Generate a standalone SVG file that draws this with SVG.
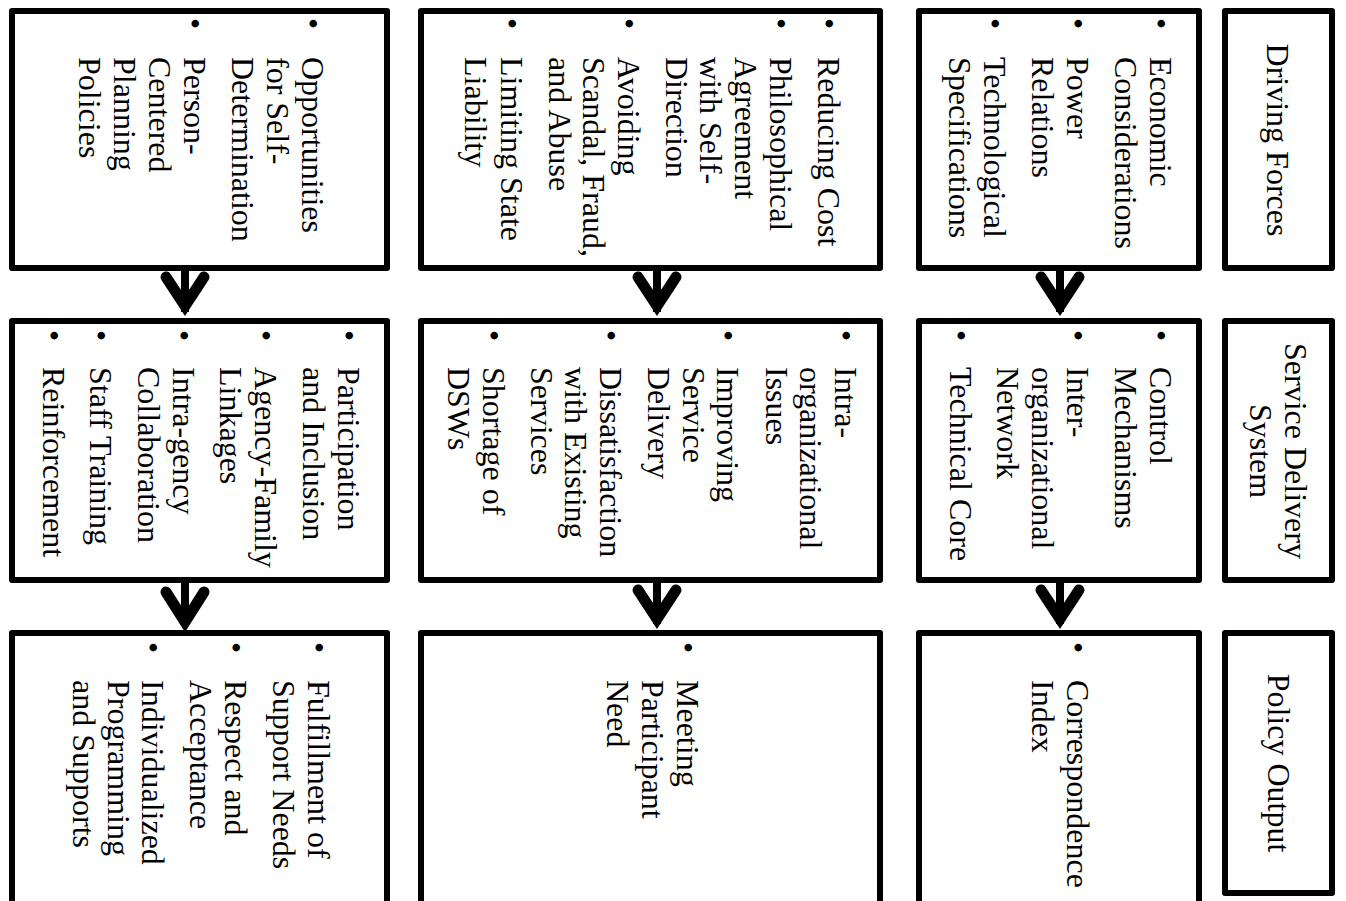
<svg xmlns="http://www.w3.org/2000/svg" width="1346" height="901" viewBox="0 0 1346 901">
<style>
.box{fill:#fff;stroke:#000;stroke-width:6;stroke-linejoin:round}
text{font-family:"Liberation Serif","Times New Roman",serif;font-size:32px;fill:#000}
.lbl{text-anchor:middle}
.stem{stroke:#000;stroke-width:8;fill:none}
.chev{stroke:#000;stroke-width:11;fill:none;stroke-linecap:round;stroke-linejoin:miter;stroke-miterlimit:6}
</style>
<rect width="1346" height="901" fill="#fff"/>

<g id="label-driving">
<rect class="box" x="1225" y="11" width="107" height="257"/>
<g transform="rotate(90)"><text class="lbl" x="140" y="-1267">Driving Forces</text></g>
</g>
<g id="label-service">
<rect class="box" x="1225" y="321" width="107" height="259"/>
<g transform="rotate(90)"><text class="lbl" x="451" y="-1285">Service Delivery</text><text class="lbl" x="451" y="-1250">System</text></g>
</g>
<g id="label-policy">
<rect class="box" x="1225" y="633" width="107" height="260"/>
<g transform="rotate(90)"><text class="lbl" x="763" y="-1268">Policy Output</text></g>
</g>

<g id="a1">
<rect class="box" x="919" y="11" width="280" height="257"/>
<g transform="rotate(90)">
<text x="18" y="-1150">•</text><text x="57" y="-1150">Economic</text>
<text x="57" y="-1115">Considerations</text>
<text x="18" y="-1067">•</text><text x="57" y="-1067">Power</text>
<text x="57" y="-1032">Relations</text>
<text x="18" y="-984">•</text><text x="57" y="-984">Technological</text>
<text x="57" y="-949">Specifications</text>
</g>
</g>

<g id="b1">
<rect class="box" x="421" y="11" width="459" height="257"/>
<g transform="rotate(90)">
<text x="18" y="-818">•</text><text x="57" y="-818">Reducing Cost</text>
<text x="18" y="-770">•</text><text x="57" y="-770">Philosophical</text>
<text x="57" y="-735">Agreement</text>
<text x="57" y="-700">with Self-</text>
<text x="57" y="-666">Direction</text>
<text x="18" y="-618">•</text><text x="57" y="-618">Avoiding</text>
<text x="57" y="-583">Scandal, Fraud,</text>
<text x="57" y="-549">and Abuse</text>
<text x="18" y="-501">•</text><text x="57" y="-501">Limiting State</text>
<text x="57" y="-465">Liability</text>
</g>
</g>

<g id="c1">
<rect class="box" x="12" y="11" width="375" height="257"/>
<g transform="rotate(90)">
<text x="18" y="-302">•</text><text x="57" y="-302">Opportunities</text>
<text x="57" y="-267">for Self-</text>
<text x="57" y="-232">Determination</text>
<text x="18" y="-184">•</text><text x="57" y="-184">Person-</text>
<text x="57" y="-149">Centered</text>
<text x="57" y="-114">Planning</text>
<text x="57" y="-79">Policies</text>
</g>
</g>

<g id="a2">
<rect class="box" x="919" y="321" width="280" height="259"/>
<g transform="rotate(90)">
<text x="330" y="-1150">•</text><text x="367" y="-1150">Control</text>
<text x="367" y="-1115">Mechanisms</text>
<text x="330" y="-1067">•</text><text x="367" y="-1067">Inter-</text>
<text x="367" y="-1032">organizational</text>
<text x="367" y="-997">Network</text>
<text x="330" y="-950">•</text><text x="367" y="-950">Technical Core</text>
</g>
</g>

<g id="b2">
<rect class="box" x="421" y="321" width="459" height="259"/>
<g transform="rotate(90)">
<text x="330" y="-835">•</text><text x="367" y="-835">Intra-</text>
<text x="367" y="-800">organizational</text>
<text x="367" y="-766">Issues</text>
<text x="330" y="-717">•</text><text x="367" y="-717">Improving</text>
<text x="367" y="-683">Service</text>
<text x="367" y="-648">Delivery</text>
<text x="330" y="-600">•</text><text x="367" y="-600">Dissatisfaction</text>
<text x="367" y="-565">with Existing</text>
<text x="367" y="-531">Services</text>
<text x="330" y="-483">•</text><text x="367" y="-483">Shortage of</text>
<text x="367" y="-448">DSWs</text>
</g>
</g>

<g id="c2">
<rect class="box" x="12" y="321" width="375" height="259"/>
<g transform="rotate(90)">
<text x="330" y="-338">•</text><text x="367" y="-338">Participation</text>
<text x="367" y="-303">and Inclusion</text>
<text x="330" y="-255">•</text><text x="367" y="-255">Agency-Family</text>
<text x="367" y="-220">Linkages</text>
<text x="330" y="-173">•</text><text x="367" y="-173">Intra-gency</text>
<text x="367" y="-138">Collaboration</text>
<text x="330" y="-90">•</text><text x="367" y="-90">Staff Training</text>
<text x="330" y="-43">•</text><text x="367" y="-43">Reinforcement</text>
</g>
</g>

<g id="a3">
<rect class="box" x="919" y="633" width="280" height="290"/>
<g transform="rotate(90)">
<text x="642" y="-1067">•</text><text x="680" y="-1067">Correspondence</text>
<text x="680" y="-1032">Index</text>
</g>
</g>

<g id="b3">
<rect class="box" x="421" y="633" width="459" height="290"/>
<g transform="rotate(90)">
<text x="642" y="-677">•</text><text x="680" y="-677">Meeting</text>
<text x="680" y="-642">Participant</text>
<text x="680" y="-607">Need</text>
</g>
</g>

<g id="c3">
<rect class="box" x="12" y="633" width="375" height="290"/>
<g transform="rotate(90)">
<text x="642" y="-308">•</text><text x="680" y="-308">Fulfillment of</text>
<text x="680" y="-273">Support Needs</text>
<text x="642" y="-225">•</text><text x="680" y="-225">Respect and</text>
<text x="680" y="-190">Acceptance</text>
<text x="642" y="-142">•</text><text x="680" y="-142">Individualized</text>
<text x="680" y="-108">Programming</text>
<text x="680" y="-73">and Supports</text>
</g>
</g>

<g id="connectors">
<line class="stem" x1="1060" y1="271" x2="1060" y2="312"/>
<path class="chev" d="M1041 277 L1060 306 L1079 277"/>
<line class="stem" x1="657" y1="271" x2="657" y2="312"/>
<path class="chev" d="M638 277 L657 306 L676 277"/>
<line class="stem" x1="185" y1="271" x2="185" y2="312"/>
<path class="chev" d="M166 277 L185 306 L204 277"/>
<line class="stem" x1="1060" y1="583" x2="1060" y2="624"/>
<path class="chev" d="M1041 590 L1060 619 L1079 590"/>
<line class="stem" x1="657" y1="583" x2="657" y2="624"/>
<path class="chev" d="M638 590 L657 619 L676 590"/>
<line class="stem" x1="185" y1="583" x2="185" y2="626"/>
<path class="chev" d="M166 592 L185 622 L204 592"/>
</g>
</svg>
